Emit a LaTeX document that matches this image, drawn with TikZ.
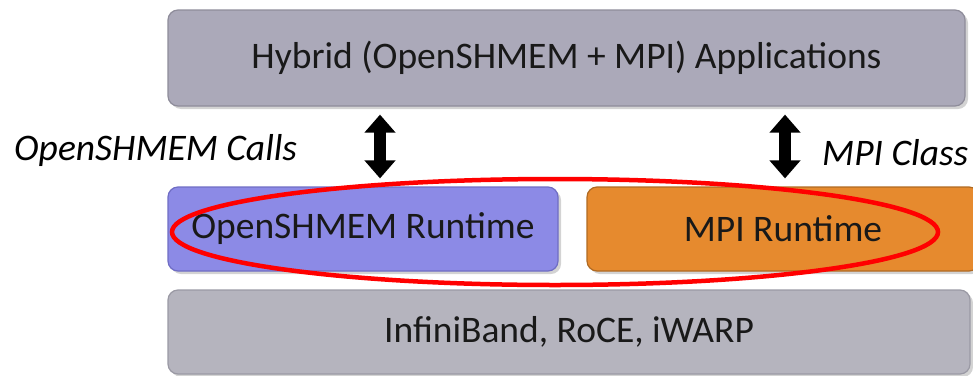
\documentclass[tikz,border=0pt]{standalone}
\usepackage{fontspec}
\setmainfont{Carlito}
\usetikzlibrary{arrows.meta,shadows,calc}
\definecolor{topfill}{HTML}{ABA9B9}
\definecolor{topdraw}{HTML}{8E8C9A}
\definecolor{shfill}{HTML}{8C8AE6}
\definecolor{shdraw}{HTML}{6F6DC4}
\definecolor{mpifill}{HTML}{E68A2E}
\definecolor{mpidraw}{HTML}{B06A22}
\definecolor{botfill}{HTML}{B5B4BE}
\definecolor{botdraw}{HTML}{9A99A4}
\tikzset{
  layer/.style={rounded corners=10pt, line width=1.2pt, inner sep=0pt,
    font=\fontsize{37.5}{42}\selectfont, text=black!90,
    drop shadow={shadow xshift=3pt, shadow yshift=-3pt, opacity=0.35}},
  dblarrow/.style={line width=12pt, black,
    {Triangle[length=18pt,width=30pt]}-{Triangle[length=18pt,width=30pt]},
    shorten <=8pt, shorten >=8pt},
  calllabel/.style={font=\fontsize{37.5}{42}\selectfont\itshape, text=black, inner sep=0pt}
}
\begin{document}
\begin{tikzpicture}[x=1pt,y=-1pt]
\useasboundingbox (0,0) rectangle (973,375);
\node[layer, fill=topfill, draw=topdraw, minimum width=797pt, minimum height=96pt] (app) at (566.5,58) {Hybrid (OpenSHMEM + MPI) Applications};
\node[layer, fill=shfill, draw=shdraw, minimum width=390pt, minimum height=84pt] (shmem) at (363,229) {OpenSHMEM Runtime};
\node[layer, fill=mpifill, draw=mpidraw, minimum width=392pt, minimum height=84pt] (mpi) at (783,229) {MPI Runtime};
\node[layer, fill=botfill, draw=botdraw, minimum width=802pt, minimum height=84pt] (net) at (569,332) {InfiniBand, RoCE, iWARP};
\coordinate (la) at (380,0);
\coordinate (ra) at (785,0);
\draw[dblarrow] (la |- app.south) -- (la |- shmem.north);
\draw[dblarrow] (ra |- app.south) -- (ra |- mpi.north);
\node[calllabel, anchor=west] (calls) at (14,150) {OpenSHMEM Calls};
\node[calllabel, anchor=west] (class) at (822,153) {MPI Class};
\draw[red, line width=4.5pt] (555,232) ellipse [x radius=383, y radius=53];
\end{tikzpicture}
\end{document}
